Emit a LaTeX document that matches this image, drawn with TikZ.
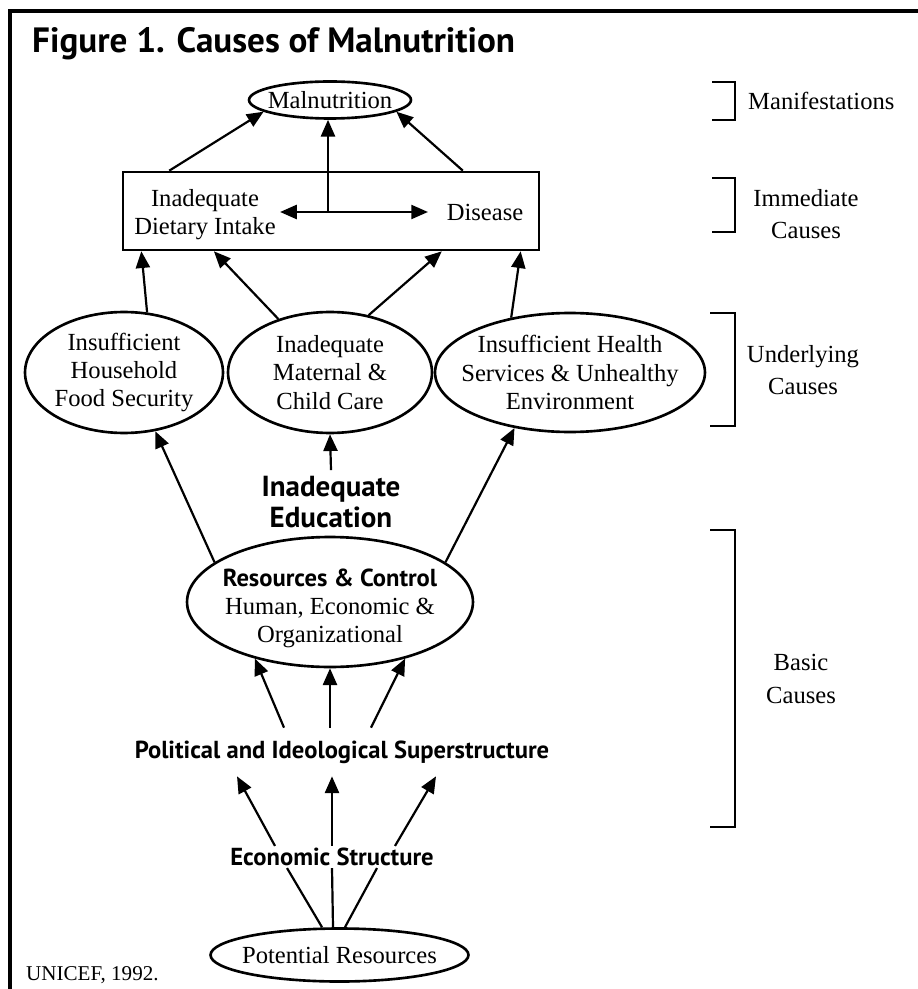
\documentclass[tikz,border=0pt]{standalone}
\usepackage{fontspec}
\setmainfont{Liberation Serif}
\newfontfamily\headsans{PT Sans}
\usetikzlibrary{arrows.meta,shapes.geometric}

\begin{document}
\begin{tikzpicture}[
x=0.02cm,y=-0.02cm,
every node/.style={font=\fontsize{14}{16}\selectfont},
oval/.style={
draw,
ellipse,
line width=1.5pt,
inner sep=0pt
},
bodytext/.style={align=center,font=\fontsize{14}{16}\selectfont},
heavy/.style={align=center,font=\headsans\bfseries\fontsize{14}{17}\selectfont},
level/.style={align=center,font=\fontsize{14}{18.5}\selectfont},
arr/.style={-{Triangle[length=9.5pt,width=8pt]},line width=1.25pt},
twoway/.style={{Triangle[length=9.5pt,width=8pt]}-{Triangle[length=9.5pt,width=8pt]},line width=1.25pt},
plainline/.style={line width=1.25pt},
bracket/.style={line width=1.5pt}
]

\useasboundingbox (0,0) rectangle (918,989);
\draw[line width=1.8pt] (10,989) -- (10,11) -- (918,11);

\node[anchor=base west,font=\headsans\bfseries\fontsize{20}{22}\selectfont] (title) at (26,53) {Figure 1. Causes of Malnutrition};

\node[oval,minimum width=3.24cm,minimum height=0.74cm] (mal) at (330,100) {};
\node[bodytext] (malt) at (mal) {Malnutrition};

\node[draw,line width=1.5pt,inner sep=0pt,minimum width=8.32cm,minimum height=1.56cm] (box) at (331,211) {};
\node[bodytext,inner xsep=2.3pt] (diet) at (205,215) {Inadequate\\Dietary Intake};
\node[bodytext,inner xsep=10.5pt] (dis) at (485,212) {Disease};
\coordinate (hub) at (328,212);

\node[oval,minimum width=3.96cm,minimum height=2.42cm] (e1) at (124,372.5) {};
\node[bodytext] (e1t) at (e1) {Insufficient\\Household\\Food Security};
\node[oval,minimum width=4.08cm,minimum height=2.42cm] (e2) at (330,372.5) {};
\node[bodytext] (e2t) at (e2) {Inadequate\\Maternal \&\\Child Care};
\node[oval,minimum width=5.4cm,minimum height=2.38cm] (e3) at (570,372.5) {};
\node[bodytext] (e3t) at (e3) {Insufficient Health\\Services \& Unhealthy\\Environment};

\node[heavy,font=\headsans\bfseries\fontsize{16.5}{17.5}\selectfont] (edu) at (331,502) {Inadequate\\Education};

\node[oval,minimum width=5.72cm,minimum height=2.6cm] (res) at (330,602) {};
\node[bodytext] (rest) at (330,608) {{\headsans\bfseries\fontsize{14}{16}\selectfont Resources \& Control}\\Human, Economic \&\\Organizational};

\node[heavy,minimum height=0.96cm] (pol) at (342,752) {Political and Ideological Superstructure};
\node[heavy,inner ysep=1pt] (eco) at (332,857) {Economic Structure};

\node[oval,minimum width=5.16cm,minimum height=1.06cm] (pot) at (339.5,955) {};
\node[bodytext] (pott) at (pot) {Potential Resources};

\node[anchor=base west,font=\fontsize{12}{14}\selectfont] (src) at (20,980) {UNICEF, 1992.};

\node[anchor=west] (manif) at (742,101) {Manifestations};
\node[level] (imm) at (806,214) {Immediate\\Causes};
\node[level] (und) at (803,370) {Underlying\\Causes};
\node[level] (bas) at (801,679) {Basic\\Causes};

\draw[bracket] (712,82) -- (735,82) -- (735,120) -- (712,120);
\draw[bracket] (712,178) -- (735,178) -- (735,232) -- (712,232);
\draw[bracket] (710,313) -- (735,313) -- (735,426) -- (710,426);
\draw[bracket] (710,530) -- (735,530) -- (735,827) -- (710,827);

\draw[arr] (box.166) -- (mal.190);
\draw[arr] (box.17) -- (mal.-10);
\draw[arr] (hub) -- (hub |- mal.south);
\draw[twoway] (diet.east |- hub) -- (dis.west |- hub);

\draw[arr] (e1.69) -- (box.192);
\draw[arr] (e2.134) -- (box.-161);
\draw[arr] (e2.56) -- (box.-20);
\draw[arr] (e3.137) -- (box.-12);

\draw[arr] (edu.north) -- (e2.south);
\draw[arr] (res.161) -- (e1.-62);
\draw[arr] (res.19) -- (e3.-135);

\draw[arr] ([xshift=-1.16cm]pol.north) -- (res.217);
\draw[arr] (pol.north -| res) -- (res.south);
\draw[arr] ([xshift=0.58cm]pol.north) -- (res.-37);

\draw[arr] ([xshift=-1.14cm]eco.north) -- ([xshift=-2.1cm]pol.south);
\draw[arr] (eco.north) -- (pol.south -| eco);
\draw[arr] ([xshift=1.26cm]eco.north) -- ([xshift=1.88cm]pol.south);

\draw[plainline] ([xshift=-0.35cm]pot.north) -- ([xshift=-0.9cm]eco.south);
\draw[plainline] ([xshift=-0.13cm]pot.north) -- (eco.south);
\draw[plainline] ([xshift=0.11cm]pot.north) -- ([xshift=0.9cm]eco.south);

\end{tikzpicture}
\end{document}
